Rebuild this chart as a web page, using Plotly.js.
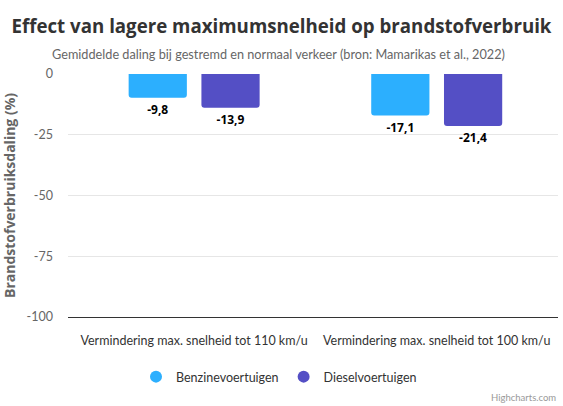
<!DOCTYPE html>
<html>
<head>
<meta charset="utf-8">
<script src="https://cdn.plot.ly/plotly-3.0.1.min.js"></script>
<style>
  html, body { margin: 0; padding: 0; background: #fff; }
  #chart { width: 563px; height: 406px; }
</style>
</head>
<body>
<div id="chart"></div>
<script>
// ---- data ----
const categories = ['Vermindering max. snelheid tot 110 km/u', 'Vermindering max. snelheid tot 100 km/u'];
const seriesNames = ['Benzinevoertuigen', 'Dieselvoertuigen'];
const benzine = [-9.8, -17.1];
const diesel = [-13.9, -21.4];
const yTicks = [0, -25, -50, -75, -100];
const colors = ['#2caffe', '#544fc5'];

const FONT = '"Open Sans", "Noto Sans", sans-serif';
const FONT_LIGHT = 'Lato, "Open Sans", sans-serif';
const PLOT_W = 563 - 68 - 5;
const PLOT_H = 406 - 74 - 89;
const px = v => (v - 68) / PLOT_W;   // page x -> paper x

function barTrace(name, values, color) {
  return {
    type: 'bar',
    name: name,
    x: categories,
    y: values,
    marker: { color: color, cornerradius: 3 },
    texttemplate: '%{y:.1f}',
    textposition: 'outside',
    cliponaxis: false,
    textfont: { family: FONT, size: 12, color: '#000', weight: 'bold' },
    showlegend: false,
    hoverinfo: 'skip'
  };
}

// legend entries with round symbols, like the original
function legendTrace(name, color) {
  return {
    type: 'scatter',
    mode: 'markers',
    name: name,
    x: [null],
    y: [null],
    marker: { color: color, size: 12, symbol: 'circle' },
    hoverinfo: 'skip'
  };
}

const traces = [
  barTrace(seriesNames[0], benzine, colors[0]),
  barTrace(seriesNames[1], diesel, colors[1]),
  legendTrace(seriesNames[0], colors[0]),
  legendTrace(seriesNames[1], colors[1])
];

const layout = {
  width: 563,
  height: 406,
  margin: { l: 68, r: 5, t: 74, b: 89 },
  paper_bgcolor: '#fff',
  plot_bgcolor: '#fff',
  font: { family: FONT_LIGHT, size: 12, color: '#333' },
  separators: ',.',
  barmode: 'group',
  bargap: 0.4,
  bargroupgap: 0.2,
  showlegend: true,
  title: {
    text: 'Effect van lagere maximumsnelheid op brandstofverbruik',
    font: { family: FONT, size: 18.7, color: '#333', weight: 'bold' },
    x: 0.5, xref: 'container', xanchor: 'center',
    y: 1 - 26 / 406, yref: 'container', yanchor: 'middle'
  },
  xaxis: {
    type: 'category',
    range: [-0.52, 1.5],
    showline: true,
    linecolor: '#333',
    linewidth: 1,
    ticks: '',
    showgrid: false,
    ticklabelstandoff: 12,
    tickfont: { family: FONT_LIGHT, size: 12.5, color: '#333' }
  },
  yaxis: {
    range: [-100, 0],
    tickvals: yTicks,
    ticktext: yTicks.map(String),
    gridcolor: '#e6e6e6',
    zeroline: false,
    showline: false,
    ticks: '',
    ticklabelstandoff: 14,
    tickfont: { family: FONT_LIGHT, size: 12.5, color: '#666' },
    title: {
      text: 'Brandstofverbruiksdaling (%)',
      font: { family: FONT, size: 14, color: '#666', weight: 'bold' },
      standoff: 7
    }
  },
  legend: {
    orientation: 'h',
    x: px(279), xanchor: 'center',
    y: -60 / PLOT_H, yanchor: 'middle',
    font: { family: FONT_LIGHT, size: 12.5, color: '#333' },
    itemsizing: 'constant',
    itemwidth: 30
  },
  annotations: [
    {
      text: 'Gemiddelde daling bij gestremd en normaal verkeer (bron: Mamarikas et al., 2022)',
      xref: 'paper', yref: 'paper',
      x: px(278), xanchor: 'center',
      y: 1 + 20 / PLOT_H, yanchor: 'middle',
      showarrow: false,
      font: { family: FONT_LIGHT, size: 12.7, color: '#666' }
    },
    {
      text: 'Highcharts.com',
      xref: 'paper', yref: 'paper',
      x: 1, xanchor: 'right',
      y: -80 / PLOT_H, yanchor: 'middle',
      showarrow: false,
      font: { family: FONT_LIGHT, size: 9.5, color: '#999' }
    }
  ]
};

Plotly.newPlot('chart', traces, layout, { displayModeBar: false, staticPlot: true });
</script>
</body>
</html>
